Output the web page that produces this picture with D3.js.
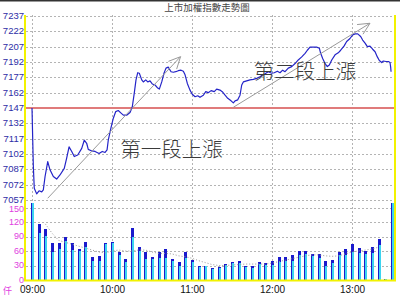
<!DOCTYPE html>
<html>
<head>
<meta charset="utf-8">
<script src="https://cdn.jsdelivr.net/npm/d3@7"></script>
<style>
  html, body { margin: 0; padding: 0; background: #fff; }
  #canvas { width: 400px; height: 296px; overflow: hidden; }
</style>
</head>
<body>
<div id="canvas"></div>
<script>
(function(){

    // ---- data ----
    var title = "上市加權指數走勢圖";
    var priceTicks = [7237, 7222, 7207, 7192, 7177, 7162, 7147, 7132, 7117, 7102, 7087, 7072, 7057];
    var volTicks = [150, 120, 90, 60, 30, 0];
    var timeTicks = [0, 60, 120, 180, 240];
    var timeLabels = ["09:00", "10:00", "11:00", "12:00", "13:00"];
    var prevClose = 7147;

    // minutes after 09:00
    var priceTimes = [0,1,1.7,3.5,5.3,7.3,8.5,9.8,11.8,13.5,16,18.5,21,24.2,26,27.8,29.8,31.7,34.3,37.3,39.2,41,42.2,44.8,47.3,50.3,52.7,54.8,56.3,57.2,59.3,61,62.8,64.7,66.8,68.5,71,73.5,75.2,76.7,78,79.3,80.5,82.3,83.5,85.3,86.8,88.5,90.2,92.3,94.3,95.5,97.3,99,100.5,102.2,104.3,106,107.8,109.7,111.8,113.5,114.8,116.5,118.5,120.2,122.3,124.3,126,128.5,130.3,132.2,134.3,136.7,138.5,141,142.7,144.8,146.8,149.3,151,152.3,154.3,156,157.3,158.5,161,163.5,166,168.5,171,172.7,174.8,177.2,179.8,181.7,184,186,188,189.8,192.2,194.8,197.3,199.7,202.3,204.8,206.5,208.5,211,213.5,215.5,216.5,218,219.8,221.5,223,224.8,227.3,229.7,231.5,234,236,238.5,240.5,242.3,244.3,246.5,248,249.8,251.5,253.5,255.5,257.3,259,260.5,262.3,263.5,265.5,267.3,268.5,269,269.3];
    var priceValues = [7147,7090,7068.5,7063,7066,7065,7067,7080,7094.5,7086.5,7080,7077.5,7081.5,7088,7098,7109,7104.5,7099.5,7101,7107.5,7115.5,7112.5,7106.5,7105,7104.5,7102.5,7104.5,7103.5,7106,7115.5,7128,7137,7143.5,7144.5,7142,7140,7140,7142.5,7148,7161.5,7174.5,7181.5,7181,7174.5,7172.5,7174.5,7172.5,7173.5,7170.5,7169.5,7166.5,7165.5,7172.5,7181,7186,7187,7182.5,7182,7182.5,7183.5,7184,7183,7179.5,7171,7164.5,7160.5,7158,7159,7157.5,7159.5,7163,7162,7164,7163,7165.5,7164.5,7163,7159.5,7156.5,7154,7152,7154,7155,7159.5,7169.5,7172.5,7173.5,7174.5,7175,7176,7177.5,7179.5,7180.5,7182.5,7181,7181.5,7183,7181.5,7184,7182.5,7186,7187.5,7190.5,7194,7197,7200.5,7203.5,7206.5,7206.5,7206.5,7205.5,7200.5,7195.5,7190.5,7187.5,7189,7194,7199,7201,7203.5,7207.5,7212,7215,7218.5,7219.5,7219.5,7217,7213.5,7210.5,7207,7207.5,7204.5,7202,7197,7193.5,7191.5,7193,7192.5,7192.5,7191.5,7187,7182.5];

    // 5-minute volume (仟), bar i at 09:00 + 5*i
    var volTotal = [160,115,106,76,76,88,76,64,78,48,50,76,79,57,44,108,68,57,48,57,64,44,38,57,41,28,29,24,26,33,38,39,29,29,38,35,40,47,47,52,60,59,54,53,39,41,57,64,75,66,60,69,85,3,159];
    var volLower = [160,97,91,57,64,81,62,61,69,39,40,75,76,52,38,90,60,43,43,45,46,39,29,46,38,26,28,22,24,31,36,35,27,24,34,31,31,38,39,39,52,53,49,46,30,35,51,51,57,55,53,55,72,3,159];
    // dotted average line on volume, starting at bar 2
    var volAvg = [116,97,82,78,74,70,66,62,58,56,60,62,60,60,62,62,58,55,55,54,50,48,45,40,36,32,30,30,31,32,33,33,33,33,35,38,41,44,47,50,52,52,50,49,50,54,58,60,62,64,68];

    // annotations in data units: [minutes, value]
    var arrows = [
        {from: [11.8, 7058.7], to: [111.4, 7197.2]},
        {from: [151, 7147.7], to: [253.5, 7229.9]}
    ];
    var notes = [
        {t: 104.6, v: 7108, text: "第一段上漲"},
        {t: 204.8, v: 7184, text: "第二段上漲"}
    ];

    // ---- scales ----
    var x = d3.scaleLinear().domain([0, 270]).range([32, 392]);
    var yP = d3.scaleLinear().domain([7057, 7237]).range([200, 16]);
    var yV = d3.scaleLinear().domain([0, 150]).range([280, 207.5]);

    var svg = d3.select("#canvas").append("svg")
        .attr("width", 400)
        .attr("height", 296)
        .style("display", "block");

    var numFont = "'Liberation Sans', Arial, sans-serif";
    var cjkFont = "'Noto Sans CJK TC', 'Noto Sans CJK SC', sans-serif";

    // top border
    svg.append("rect").attr("x", 0).attr("y", 0).attr("width", 400).attr("height", 1.5).attr("fill", "#333");

    // title
    svg.append("text")
        .attr("x", 207).attr("y", 11)
        .attr("text-anchor", "middle")
        .attr("font-family", cjkFont)
        .attr("font-size", 9.5)
        .attr("fill", "#444")
        .text(title);

    // grid
    var grid = svg.append("g")
        .attr("stroke", "#b4b4b4")
        .attr("stroke-width", 1)
        .attr("stroke-dasharray", "2,2")
        .attr("shape-rendering", "crispEdges");

    for (var t of timeTicks) {
        grid.append("line")
            .attr("x1", Math.round(x(t)) + 0.5).attr("x2", Math.round(x(t)) + 0.5)
            .attr("y1", 15).attr("y2", 280);
    }
    for (var p of priceTicks) {
        if (p === prevClose) continue;
        grid.append("line")
            .attr("x1", 26).attr("x2", 394)
            .attr("y1", Math.round(yP(p)) + 0.5).attr("y2", Math.round(yP(p)) + 0.5);
    }
    for (var v of volTicks) {
        if (v === 0) continue;
        grid.append("line")
            .attr("x1", 26).attr("x2", 394)
            .attr("y1", Math.round(yV(v)) + 0.5).attr("y2", Math.round(yV(v)) + 0.5);
    }

    // previous close line
    svg.append("line")
        .attr("x1", 26).attr("x2", 394)
        .attr("y1", yP(prevClose)).attr("y2", yP(prevClose))
        .attr("stroke", "#e07b7b")
        .attr("stroke-width", 2);

    // volume bars
    var bars = svg.append("g").attr("shape-rendering", "crispEdges");
    volTotal.forEach(function(d, i){
        var cx = Math.round(x(i * 5));
        bars.append("rect")
            .attr("x", cx - 1).attr("width", 3)
            .attr("y", yV(d)).attr("height", yV(0) - yV(d))
            .attr("fill", "#1a1acc");
        bars.append("rect")
            .attr("x", cx).attr("width", 2)
            .attr("y", yV(volLower[i])).attr("height", yV(0) - yV(volLower[i]))
            .attr("fill", "#3cd4f0");
    });

    // volume average (dotted)
    var avgLine = d3.line()
        .x(function(d, i){ return x((i + 2) * 5); })
        .y(function(d){ return yV(d); });
    svg.append("path")
        .datum(volAvg)
        .attr("d", avgLine)
        .attr("fill", "none")
        .attr("stroke", "#999")
        .attr("stroke-width", 1)
        .attr("stroke-dasharray", "1,2");

    // price line
    var line = d3.line()
        .x(function(d){ return x(d); })
        .y(function(d, i){ return yP(priceValues[i]); });
    svg.append("path")
        .datum(priceTimes)
        .attr("d", line)
        .attr("fill", "none")
        .attr("stroke", "#2424c8")
        .attr("stroke-width", 1.2)
        .attr("stroke-linejoin", "round");

    // arrows
    for (var a of arrows) {
        var x1 = x(a.from[0]), y1 = yP(a.from[1]);
        var x2 = x(a.to[0]), y2 = yP(a.to[1]);
        var ang = Math.atan2(y2 - y1, x2 - x1);
        var len = 13, spread = 0.45;
        svg.append("line")
            .attr("x1", x1).attr("y1", y1).attr("x2", x2).attr("y2", y2)
            .attr("stroke", "#9a9a9a").attr("stroke-width", 1);
        svg.append("path")
            .attr("d", "M" + (x2 - len * Math.cos(ang - spread)) + "," + (y2 - len * Math.sin(ang - spread)) +
                       "L" + x2 + "," + y2 +
                       "L" + (x2 - len * Math.cos(ang + spread)) + "," + (y2 - len * Math.sin(ang + spread)))
            .attr("fill", "none")
            .attr("stroke", "#9a9a9a").attr("stroke-width", 1);
    }

    // notes
    for (var n of notes) {
        svg.append("text")
            .attr("x", x(n.t)).attr("y", yP(n.v))
            .attr("text-anchor", "middle")
            .attr("dominant-baseline", "central")
            .attr("font-family", cjkFont)
            .attr("font-weight", 300)
            .attr("font-size", 20.5)
            .attr("fill", "#3a3a3a")
            .text(n.text);
    }

    // frame (yellow)
    svg.append("line").attr("x1", 25).attr("x2", 25).attr("y1", 15).attr("y2", 281)
        .attr("stroke", "#f2f200").attr("stroke-width", 2);
    svg.append("line").attr("x1", 395).attr("x2", 395).attr("y1", 15).attr("y2", 281)
        .attr("stroke", "#f2f200").attr("stroke-width", 2);
    svg.append("line").attr("x1", 24).attr("x2", 396).attr("y1", 280.5).attr("y2", 280.5)
        .attr("stroke", "#f2f200").attr("stroke-width", 2);

    // price axis labels
    var pAxis = svg.append("g")
        .attr("transform", "translate(24,-0.5)")
        .call(d3.axisLeft(yP).tickValues(priceTicks).tickSize(0).tickPadding(0).tickFormat(d3.format("d")));
    pAxis.select(".domain").remove();
    pAxis.selectAll("text")
        .attr("font-family", numFont)
        .attr("font-size", 9.5)
        .attr("fill", "#2e2ea6");

    // volume axis labels
    var vAxis = svg.append("g")
        .attr("transform", "translate(24,-0.6)")
        .call(d3.axisLeft(yV).tickValues(volTicks).tickSize(0).tickPadding(0).tickFormat(d3.format("d")));
    vAxis.select(".domain").remove();
    vAxis.selectAll("text")
        .attr("font-family", numFont)
        .attr("font-size", 9)
        .attr("fill", "#e040e0");
    vAxis.selectAll(".tick").filter(function(d){ return d === 150; })
        .select("text").attr("dy", "0.5em");

    svg.append("text")
        .attr("x", 3).attr("y", 294)
        .attr("font-family", cjkFont)
        .attr("font-size", 9)
        .attr("fill", "#e040e0")
        .text("仟");

    // time axis labels
    var tAxis = svg.append("g")
        .attr("transform", "translate(0,285.5)")
        .call(d3.axisBottom(x).tickValues(timeTicks).tickSize(0).tickPadding(0)
            .tickFormat(function(d, i){ return timeLabels[i]; }));
    tAxis.select(".domain").remove();
    tAxis.selectAll("text")
        .attr("font-family", numFont)
        .attr("font-size", 10)
        .attr("fill", "#111");

})();
</script>
</body>
</html>
